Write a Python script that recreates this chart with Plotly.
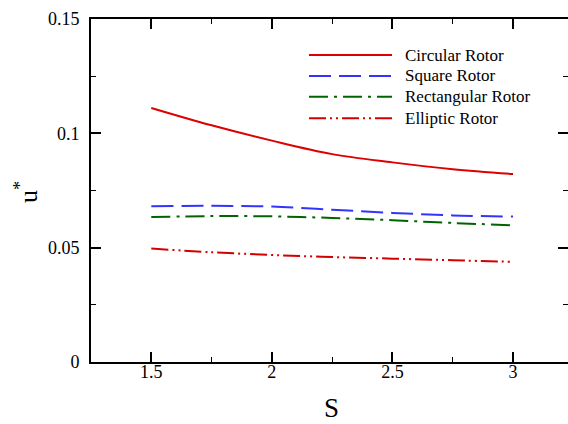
import plotly.graph_objects as go

S = [1.5, 1.75, 2.0, 2.25, 2.5, 2.75, 3.0]
circular = [0.1111, 0.1035, 0.0968, 0.0909, 0.0873, 0.0843, 0.0822]
square = [0.0681, 0.0683, 0.0680, 0.0666, 0.0652, 0.0641, 0.0636]
rectangular = [0.0634, 0.0638, 0.0637, 0.0630, 0.0620, 0.0608, 0.0598]
elliptic = [0.0496, 0.0480, 0.0468, 0.0459, 0.0452, 0.0445, 0.0438]

names = ["Circular Rotor", "Square Rotor", "Rectangular Rotor", "Elliptic Rotor"]
series = [circular, square, rectangular, elliptic]
colors = ["#dd0000", "#3333ff", "#006400", "#d40000"]
dashes = ["solid", "22px,8px", "19px,6px,3px,6px", "17px,4px,2px,4px,2px,4px"]

FONT = "Liberation Serif"

fig = go.Figure()
for n, ys, c, d in zip(names, series, colors, dashes):
    fig.add_trace(go.Scatter(x=S, y=ys, mode="lines", name=n, showlegend=False,
                             line=dict(color=c, width=2, dash=d, shape="spline")))

# legend drawn in paper coordinates
leg_y = [0.895, 0.834, 0.773, 0.711]
for n, c, d, ly in zip(names, colors, dashes, leg_y):
    fig.add_shape(type="line", xref="paper", yref="paper", x0=0.457, x1=0.631, y0=ly, y1=ly,
                  line=dict(color=c, width=2, dash=d))
    fig.add_annotation(xref="paper", yref="paper", x=0.654, y=ly, xanchor="left", yanchor="middle",
                       text=n, showarrow=False, font=dict(family=FONT, size=17, color="black"))

# axis titles
fig.add_annotation(xref="paper", yref="paper", x=0.505, y=-0.1808, xanchor="center", yanchor="bottom",
                   text="S", showarrow=False, borderpad=0,
                   font=dict(family=FONT, size=27, color="black"))
fig.add_annotation(xref="paper", yref="paper", x=-0.134, y=0.496, xanchor="center", yanchor="middle",
                   text="u<sup>*</sup>", textangle=-90, showarrow=False,
                   font=dict(family=FONT, size=26, color="black"))

axis_common = dict(showline=True, linecolor="black", linewidth=2, mirror="ticks",
                   ticks="inside", ticklen=10, tickwidth=2, tickcolor="black",
                   showgrid=False, zeroline=False,
                   tickfont=dict(family=FONT, size=18, color="black"))

fig.update_xaxes(range=[1.25, 3.228], tickvals=[1.5, 2, 2.5, 3], ticktext=["1.5", "2", "2.5", "3"],
                 minor=dict(ticks="inside", ticklen=5, tickwidth=1, tickcolor="black", dtick=0.25, tick0=0),
                 ticklabelstandoff=-8,
                 **axis_common)
fig.update_yaxes(range=[0, 0.15], tickvals=[0, 0.05, 0.1, 0.15], ticktext=["0", "0.05", "0.1", "0.15"],
                 minor=dict(ticks="inside", ticklen=5, tickwidth=1, tickcolor="black", dtick=0.025, tick0=0),
                 ticklabelstandoff=6,
                 **axis_common)

fig.update_layout(
    width=568, height=424,
    margin=dict(l=91, r=0, t=19, b=62, autoexpand=False),
    paper_bgcolor="white", plot_bgcolor="white",
    showlegend=False,
)

fig.write_html("out.html")
